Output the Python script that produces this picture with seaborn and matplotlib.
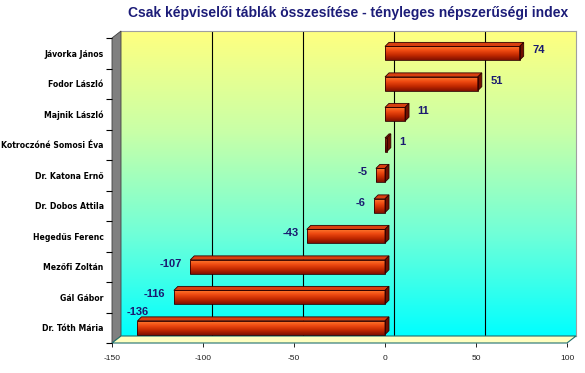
import numpy as np
import matplotlib
matplotlib.use("Agg")
import matplotlib.pyplot as plt
import seaborn as sns
from matplotlib.colors import LinearSegmentedColormap
from matplotlib.patches import Polygon
from matplotlib.transforms import IdentityTransform
from matplotlib import font_manager as fm

names = ["Jávorka János", "Fodor László", "Majnik László", "Kotroczóné Somosi Éva",
         "Dr. Katona Ernő", "Dr. Dobos Attila", "Hegedűs Ferenc", "Mezőfi Zoltán",
         "Gál Gábor", "Dr. Tóth Mária"]
values = [74, 51, 11, 1, -5, -6, -43, -107, -116, -136]
xticks = [-150, -100, -50, 0, 50, 100]
title = "Csak képviselői táblák összesítése - tényleges népszerűségi index"

sns.set_theme(style="white")
plt.rcParams['font.family'] = ['Liberation Sans', 'DejaVu Sans']

# condensed font for category labels if available
cond = None
for f in fm.fontManager.ttflist:
    if f.name in ("Liberation Sans Narrow",) and f.weight in (700, "bold"):
        cond = fm.FontProperties(fname=f.fname)
        break
if cond is None:
    for f in fm.fontManager.ttflist:
        if f.name == "DejaVu Sans" and "Condensed" in f.fname and "Bold" in f.fname and "Oblique" not in f.fname:
            cond = fm.FontProperties(fname=f.fname)
            break
if cond is None:
    cond = fm.FontProperties(family="Liberation Sans", weight="bold")
    cond_size = 6.0
else:
    cond_size = 6.2
cond.set_size(cond_size)

W, H = 585, 373
fig = plt.figure(figsize=(W / 100, H / 100), dpi=100)

def fx(p):
    return p / W

def fy(p):
    return 1 - p / H

FL, FR, FT, FB = 112, 567, 38, 343
DX, DY = 9, 7

bg = fig.add_axes([fx(FL + DX), fy(FB - DY), (FR - FL) / W, (FB - FT) / H], zorder=0)
grad = np.linspace(0, 1, 256).reshape(-1, 1)
wall_cmap = LinearSegmentedColormap.from_list("wall", ["#FFFF80", "#C8FFA8", "#70FFD8", "#00FFFF"])
bg.imshow(grad, cmap=wall_cmap, aspect="auto", extent=(xticks[0], xticks[-1], 0, 1), origin="upper")
bg.set_xlim(xticks[0], xticks[-1])
bg.set_ylim(0, 1)
for t in xticks[1:-1]:
    bg.axvline(t, color="black", lw=0.8)
bg.set_xticks([])
bg.set_yticks([])
for s in ["top", "right", "bottom"]:
    bg.spines[s].set_color("#A0A0A0")
    bg.spines[s].set_linewidth(0.8)
bg.spines["left"].set_visible(False)

left_wall = Polygon([(fx(FL), fy(FT)), (fx(FL + DX), fy(FT - DY)), (fx(FL + DX), fy(FB - DY)), (fx(FL), fy(FB))],
                    closed=True, transform=fig.transFigure, facecolor="#808080", edgecolor="#404040", lw=0.6, zorder=0.5)
floor = Polygon([(fx(FL), fy(FB)), (fx(FR), fy(FB)), (fx(FR + DX), fy(FB - DY)), (fx(FL + DX), fy(FB - DY))],
                closed=True, transform=fig.transFigure, facecolor="#FFFFC0", edgecolor="#207070", lw=0.8, zorder=0.5)
fig.patches.extend([left_wall, floor])

ax = fig.add_axes([fx(FL), fy(FB), (FR - FL) / W, (FB - FT) / H], zorder=1)
ax.patch.set_alpha(0)
sns.barplot(x=values, y=names, orient="h", color="#E84010", width=0.45, ax=ax,
            saturation=1, edgecolor="#300000", linewidth=0.6)
ax.set_xlim(xticks[0], xticks[-1])
ax.set_ylim(len(names) - 0.5, -0.5)
ax.autoscale(False)

bar_cmap = LinearSegmentedColormap.from_list("bar", ["#FF7A30", "#EE4810", "#C02800", "#801000"])
d = 4
for p in list(ax.patches):
    x0, y0 = p.get_x(), p.get_y()
    w, h = p.get_width(), p.get_height()
    xl, xr = min(x0, x0 + w), max(x0, x0 + w)
    im = ax.imshow(grad, cmap=bar_cmap, aspect="auto", extent=(xl, xr, y0 + h, y0),
                   origin="upper", zorder=2)
    im.set_clip_path(p)
    p.set_facecolor("none")
    p.set_zorder(3)
    tl = ax.transData.transform((xl, y0))
    tr = ax.transData.transform((xr, y0))
    br = ax.transData.transform((xr, y0 + h))
    top = Polygon([tl, tr, tr + [d, d], tl + [d, d]], closed=True, transform=IdentityTransform(),
                  facecolor="#D84010", edgecolor="#300000", lw=0.6, zorder=2.5)
    side = Polygon([tr, br, br + [d, d], tr + [d, d]], closed=True, transform=IdentityTransform(),
                   facecolor="#701000", edgecolor="#300000", lw=0.6, zorder=2.5)
    ax.add_patch(top)
    ax.add_patch(side)

ax.set_xlim(xticks[0], xticks[-1])
ax.set_ylim(len(names) - 0.5, -0.5)

for i, v in enumerate(values):
    if v < -120:
        ax.annotate(f"{v}", (v, i), xytext=(0, 8), textcoords="offset points",
                    ha="center", va="bottom", fontsize=8, fontweight="bold", color="#1A1A70")
    elif v >= 0:
        ax.annotate(f"{v}", (v, i), xytext=(9, 2), textcoords="offset points",
                    ha="left", va="center", fontsize=8, fontweight="bold", color="#1A1A70")
    else:
        ax.annotate(f"{v}", (v, i), xytext=(-6, 2), textcoords="offset points",
                    ha="right", va="center", fontsize=8, fontweight="bold", color="#1A1A70")

ax.set_xticks(xticks)
ax.set_xticklabels([str(t) for t in xticks], fontsize=6, color="#202020")
ax.set_yticks(range(len(names)))
ax.set_yticklabels(names, fontproperties=cond, color="black")
ax.set_yticks(np.arange(-0.5, len(names)), minor=True)
ax.tick_params(axis="y", which="major", length=0, pad=6)
ax.tick_params(axis="y", which="minor", length=4, width=0.8, color="black", left=True)
ax.tick_params(axis="x", length=3, width=0.6, color="black", pad=6, bottom=True)
for s in ax.spines.values():
    s.set_visible(False)
ax.set_xlabel("")
ax.set_ylabel("")

fig.text(fx(348), fy(13), title, ha="center", va="center", fontsize=10, fontweight="bold", color="#1C1C78")

fig.savefig("out.png", dpi=100, facecolor="white")
